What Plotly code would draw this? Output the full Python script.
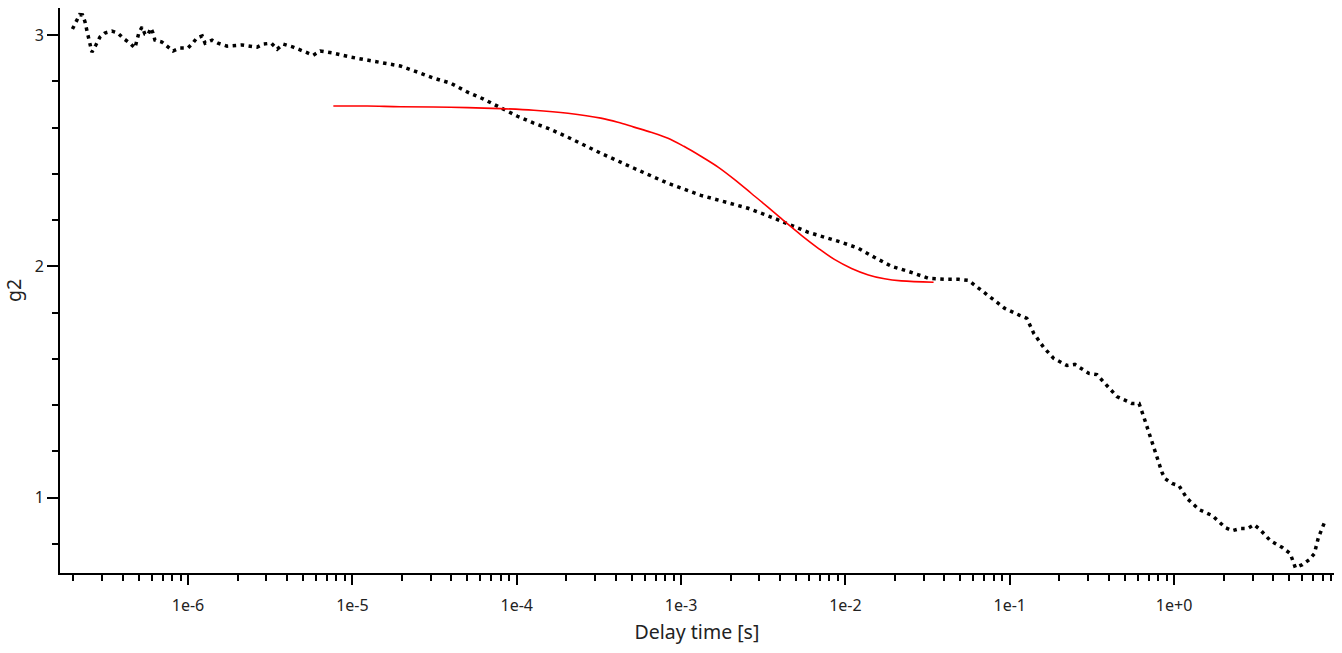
import plotly.graph_objects as go

# measured correlation data
delay_time = [1.98e-7, 2.08e-7, 2.19e-7, 2.28e-7, 2.36e-7, 2.42e-7, 2.49e-7, 2.60e-7, 2.75e-7, 2.91e-7,
              3.12e-7, 3.44e-7, 3.74e-7, 4.02e-7, 4.43e-7, 4.75e-7, 4.89e-7, 5.02e-7, 5.25e-7, 5.47e-7,
              5.70e-7, 5.94e-7, 6.12e-7, 6.29e-7, 6.94e-7, 7.55e-7, 8.11e-7, 8.94e-7, 1.0e-6, 1.07e-6,
              1.13e-6, 1.22e-6, 1.27e-6, 1.40e-6, 1.52e-6, 1.73e-6, 2.13e-6, 2.39e-6, 2.63e-6, 2.87e-6,
              3.21e-6, 3.49e-6, 3.79e-6, 4.37e-6, 5.32e-6, 5.78e-6, 6.38e-6, 7.66e-6, 9.73e-6, 1.23e-5,
              1.55e-5, 1.96e-5, 2.49e-5, 3.12e-5, 3.96e-5, 5.03e-5, 6.29e-5, 7.99e-5, 1.01e-4, 1.27e-4,
              1.55e-4, 2.05e-4, 3.25e-4, 5.17e-4, 8.33e-4, 1.32e-3, 2.56e-3, 3.69e-3, 5.94e-3, 9.46e-3,
              1.20e-2, 1.50e-2, 1.91e-2, 2.42e-2, 3.21e-2, 4.02e-2, 4.89e-2, 5.62e-2, 6.12e-2, 7.45e-2,
              9.33e-2, 0.115, 0.127, 0.140, 0.161, 0.185, 0.223, 0.249, 0.303, 0.339,
              0.390, 0.449, 0.554, 0.612, 0.656, 0.705, 0.755, 0.811, 0.845, 0.881,
              0.972, 1.07, 1.20, 1.42, 1.71, 2.05, 2.26, 2.52, 2.79, 3.07,
              3.34, 3.85, 4.56, 5.09, 5.47, 6.03, 6.65, 7.14, 7.55, 8.22]
g2_data = [3.026, 3.053, 3.088, 3.087, 3.058, 3.022, 2.978, 2.926, 2.957, 2.991,
           3.009, 3.017, 3.009, 2.987, 2.965, 2.944, 2.978, 3.009, 3.035, 3.004,
           3.000, 3.030, 3.009, 2.978, 2.970, 2.948, 2.931, 2.944, 2.944, 2.965,
           2.987, 2.996, 2.965, 2.978, 2.965, 2.952, 2.957, 2.952, 2.948, 2.961,
           2.965, 2.939, 2.961, 2.948, 2.926, 2.913, 2.931, 2.922, 2.905, 2.892,
           2.879, 2.866, 2.840, 2.814, 2.792, 2.753, 2.723, 2.684, 2.649, 2.619,
           2.597, 2.558, 2.489, 2.424, 2.359, 2.307, 2.251, 2.208, 2.147, 2.104,
           2.078, 2.039, 2.000, 1.978, 1.948, 1.944, 1.944, 1.939, 1.918, 1.874,
           1.818, 1.788, 1.775, 1.710, 1.649, 1.602, 1.571, 1.576, 1.537, 1.532,
           1.485, 1.437, 1.407, 1.407, 1.346, 1.277, 1.212, 1.147, 1.108, 1.082,
           1.061, 1.052, 0.996, 0.948, 0.922, 0.870, 0.857, 0.866, 0.866, 0.883,
           0.861, 0.814, 0.784, 0.758, 0.697, 0.710, 0.732, 0.758, 0.827, 0.892]

# fitted curve
fit_time = [7.66e-6, 1.23e-5, 1.96e-5, 3.96e-5, 7.99e-5, 1.27e-4, 2.05e-4, 3.25e-4, 4.13e-4, 5.17e-4,
            6.56e-4, 8.33e-4, 1.04e-3, 1.32e-3, 1.68e-3, 2.10e-3, 2.67e-3, 3.39e-3, 4.25e-3, 5.40e-3,
            6.84e-3, 8.57e-3, 1.09e-2, 1.38e-2, 1.73e-2, 2.19e-2, 3.44e-2]
g2_fit = [2.693, 2.693, 2.690, 2.688, 2.682, 2.675, 2.662, 2.641, 2.623, 2.602,
          2.580, 2.554, 2.519, 2.476, 2.429, 2.377, 2.316, 2.255, 2.195, 2.134,
          2.078, 2.030, 1.991, 1.963, 1.946, 1.937, 1.931]

x_major_vals = [1e-6, 1e-5, 1e-4, 1e-3, 1e-2, 1e-1, 1e0]
x_major_text = ["1e-6", "1e-5", "1e-4", "1e-3", "1e-2", "1e-1", "1e+0"]
y_major_vals = [1, 2, 3]

x_minor_vals = [m * 10.0 ** e for e in range(-7, 1) for m in range(2, 10)]
y_minor_vals = [round(0.6 + 0.2 * i, 2) for i in range(14)]

fig = go.Figure()
fig.add_trace(go.Scatter(x=delay_time, y=g2_data, mode="lines",
                         line=dict(color="black", width=3.5, dash="3.5px,4.5px"),
                         showlegend=False))
fig.add_trace(go.Scatter(x=fit_time, y=g2_fit, mode="lines",
                         line=dict(color="#ff0000", width=1.6, shape="spline", smoothing=1.0),
                         showlegend=False))

font_family = "Noto Sans, Open Sans, sans-serif"
fig.update_layout(
    width=1342, height=653,
    margin=dict(l=60, r=8, t=8, b=80, autoexpand=False),
    paper_bgcolor="white", plot_bgcolor="white",
    font=dict(family=font_family, size=16, color="#222"),
    xaxis=dict(type="log", range=[-6.779, 0.973], automargin=False,
               tickmode="array", tickvals=x_major_vals, ticktext=x_major_text,
               ticks="outside", ticklen=10, tickwidth=1.5, tickcolor="black",
               showline=True, linecolor="black", linewidth=2,
               showgrid=False, zeroline=False,
               ticklabelstandoff=7,
               minor=dict(tickmode="array", tickvals=x_minor_vals, ticks="outside",
                          ticklen=6, tickwidth=1.5, tickcolor="black", showgrid=False),
               title=dict(text="Delay time [s]", font=dict(size=19.5), standoff=10)),
    yaxis=dict(range=[0.674, 3.117], automargin=False,
               tickmode="array", tickvals=y_major_vals,
               ticks="outside", ticklen=11, tickwidth=1.5, tickcolor="black",
               showline=True, linecolor="black", linewidth=2,
               showgrid=False, zeroline=False,
               minor=dict(tickmode="array", tickvals=y_minor_vals, ticks="outside",
                          ticklen=6, tickwidth=1.5, tickcolor="black", showgrid=False),
               title=dict(text="g2", font=dict(size=19.5), standoff=8)),
)

fig.write_html("out.html", config={"displayModeBar": False},
               post_script="document.body.style.margin='0';document.body.style.overflow='hidden';")
